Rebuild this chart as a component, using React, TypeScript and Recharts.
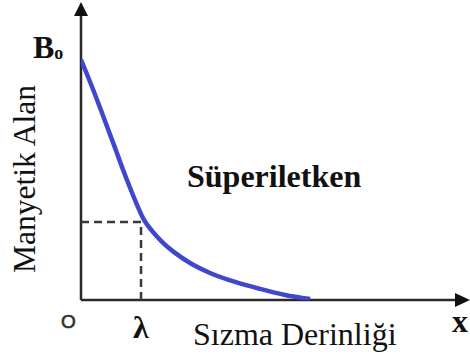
import React from "react";
import { LineChart, Line, XAxis, YAxis, ReferenceLine, ReferenceDot } from "recharts";

// Penetration depth (in units of λ) and field strength (in units of B0)
const depth = [0, 0.183, 0.367, 0.567, 0.7, 0.817, 0.933, 1.05, 1.183, 1.35, 1.567, 1.817, 2.15, 2.567, 2.983, 3.4, 3.817];
const field = [1.0, 0.8875, 0.767, 0.633, 0.542, 0.467, 0.396, 0.333, 0.2875, 0.242, 0.196, 0.154, 0.1125, 0.075, 0.046, 0.021, 0.004];

const lambdaDepth = 1.0;
const lambdaField = 0.325;
const xMax = 6.48;
const yMax = 1.24;

const data = depth.map((d, i) => ({ d, b: field[i] }));

const W = 470;
const H = 357;
const serif = "'Liberation Serif', 'Times New Roman', serif";
const axisColor = "#2a2a2a";

const ArrowRight = (p: any) => (
  <polygon points={`${p.cx},${p.cy} ${p.cx - 15},${p.cy - 7} ${p.cx - 15},${p.cy + 7}`} fill="#111" />
);
const ArrowUp = (p: any) => (
  <polygon points={`${p.cx},${p.cy} ${p.cx - 7},${p.cy + 14} ${p.cx + 7},${p.cy + 14}`} fill="#111" />
);

export default function App() {
  return (
    <div style={{ position: "absolute", left: 0, top: 0, width: W, height: H, background: "#fff", overflow: "hidden" }}>
      <LineChart width={W} height={H} data={data} margin={{ top: 2, right: 0, bottom: 57, left: 81 }}>
        <XAxis dataKey="d" type="number" domain={[0, xMax]} allowDataOverflow hide />
        <YAxis type="number" domain={[0, yMax]} allowDataOverflow hide />
        {/* axes */}
        <ReferenceLine
          segment={[{ x: 0, y: 0 }, { x: xMax * 0.98, y: 0 }]}
          stroke={axisColor}
          strokeWidth={2.5}
          ifOverflow="visible"
        />
        <ReferenceLine
          segment={[{ x: 0, y: 0 }, { x: 0, y: yMax * 0.97 }]}
          stroke={axisColor}
          strokeWidth={2.5}
          ifOverflow="visible"
        />
        {/* λ guides */}
        <ReferenceLine
          segment={[{ x: 0, y: lambdaField }, { x: lambdaDepth, y: lambdaField }]}
          stroke="#3a3a3a"
          strokeWidth={2.5}
          strokeDasharray="8 5"
          ifOverflow="visible"
        />
        <ReferenceLine
          segment={[{ x: lambdaDepth, y: 0 }, { x: lambdaDepth, y: lambdaField }]}
          stroke="#3a3a3a"
          strokeWidth={2.5}
          strokeDasharray="8 5"
          ifOverflow="visible"
        />
        <Line
          type="monotone"
          dataKey="b"
          stroke="#3f47cc"
          strokeWidth={4.5}
          dot={false}
          isAnimationActive={false}
        />
        <ReferenceDot x={xMax} y={0} r={0} ifOverflow="visible" shape={ArrowRight} />
        <ReferenceDot x={0} y={yMax} r={0} ifOverflow="visible" shape={ArrowUp} />
      </LineChart>
      <svg width={W} height={H} style={{ position: "absolute", left: 0, top: 0, pointerEvents: "none" }}>
        <text x={33} y={58} fontFamily={serif} fontWeight="bold" fontSize={32} fill="#111">
          B<tspan fontSize={18} dy={1}>o</tspan>
        </text>
        <text
          x={35}
          y={179}
          transform="rotate(-90 35 179)"
          textAnchor="middle"
          fontFamily={serif}
          fontSize={31.5}
          fill="#111"
        >
          Manyetik Alan
        </text>
        <text x={187} y={187} fontFamily={serif} fontWeight="bold" fontSize={32} fill="#111">
          Süperiletken
        </text>
        <text
          x={61}
          y={328}
          fontFamily="'Liberation Sans', Arial, sans-serif"
          fontSize={19}
          fill="#333"
          stroke="#333"
          strokeWidth={0.7}
        >
          O
        </text>
        <text x={133} y={338} fontFamily={serif} fontWeight="bold" fontSize={32} fill="#111">
          λ
        </text>
        <text x={193} y={345} fontFamily={serif} fontSize={32} fill="#111">
          Sızma Derinliği
        </text>
        <text x={452} y={332} fontFamily={serif} fontWeight="bold" fontSize={32} fill="#111">
          x
        </text>
      </svg>
    </div>
  );
}
